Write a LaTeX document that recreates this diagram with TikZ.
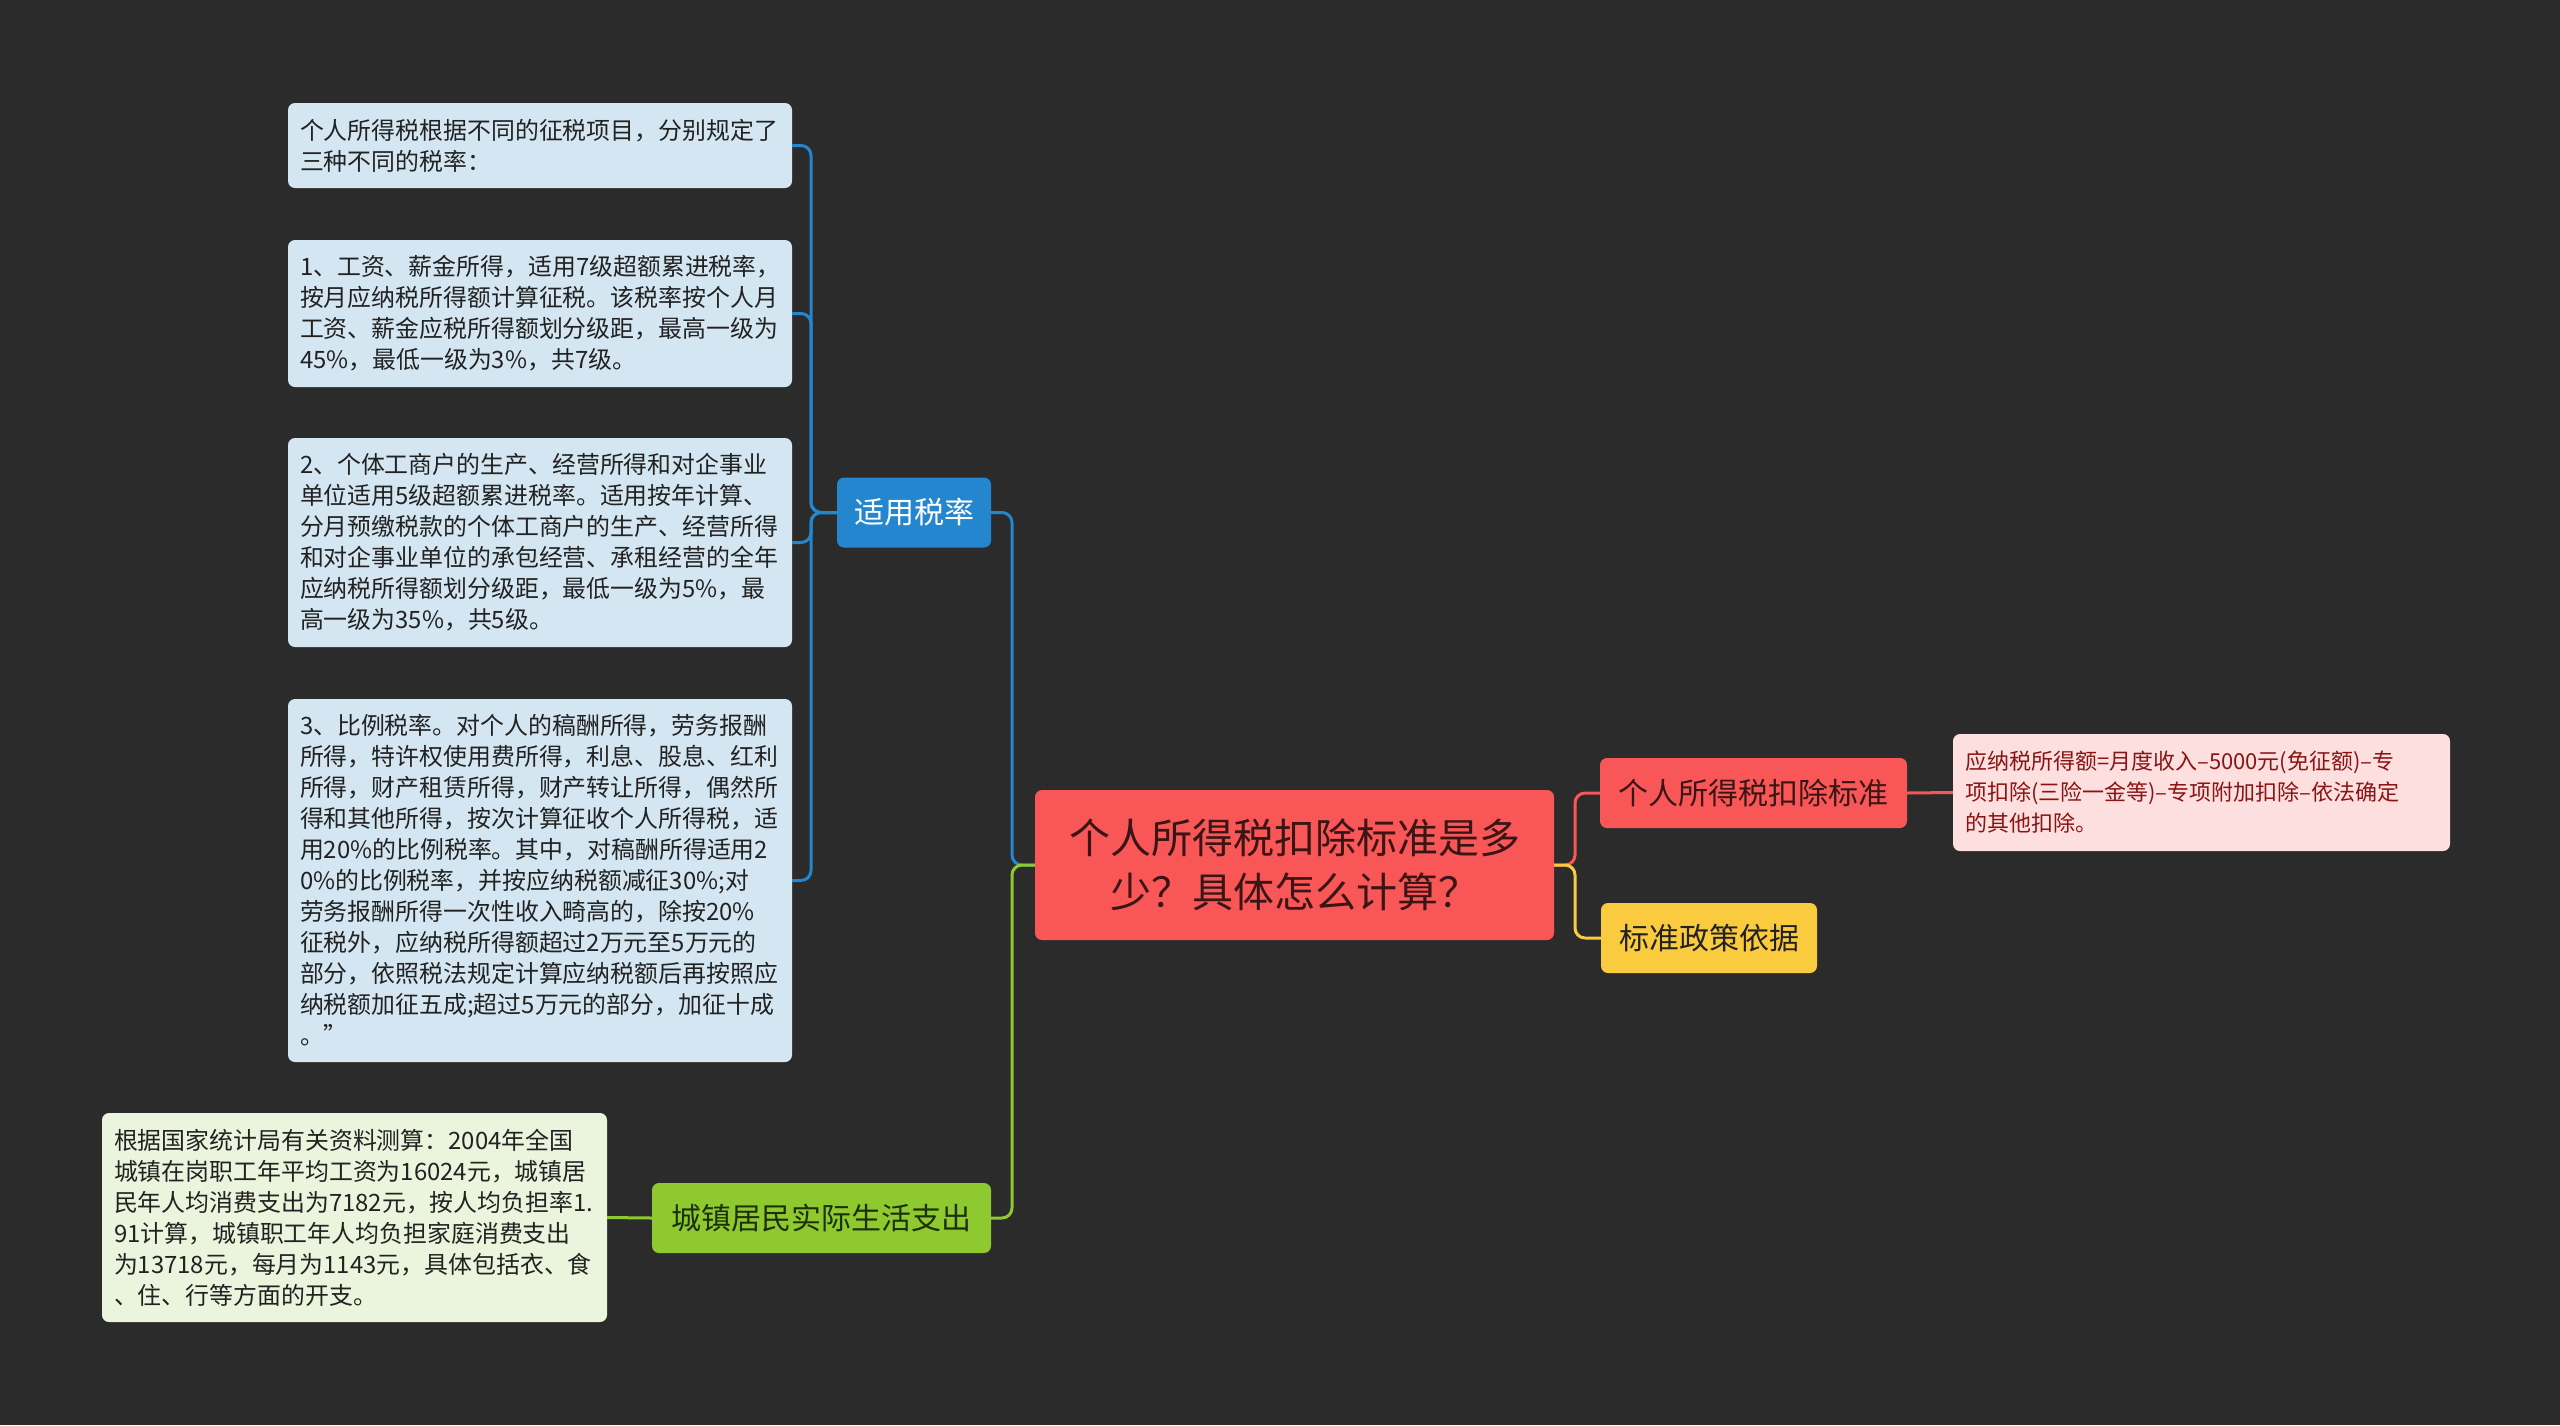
\documentclass[tikz,border=0pt]{standalone}
\usepackage{fontspec}
\newfontfamily\cjk{Noto Sans CJK SC}
\definecolor{bgc}{HTML}{2B2B2B}
\definecolor{bluec}{HTML}{2386CF}
\definecolor{lbluec}{HTML}{D4E6F2}
\definecolor{redc}{HTML}{F95657}
\definecolor{pinkc}{HTML}{FDDFDF}
\definecolor{pinktext}{HTML}{8A1414}
\definecolor{yellowc}{HTML}{FBCB3F}
\definecolor{greenc}{HTML}{8DC92F}
\definecolor{lgreenc}{HTML}{EBF4DC}
\definecolor{darktext}{HTML}{222222}
\definecolor{roottext}{HTML}{3A1515}
\definecolor{greentext}{HTML}{1E3008}
\begin{document}
\begin{tikzpicture}[x=1pt,y=-1pt,
  base/.style={rectangle, rounded corners=7pt, inner sep=0pt},
  leaf/.style={base, align=left, inner xsep=12pt, text=darktext,
    font=\cjk\fontsize{23.9}{31}\selectfont},
  leafblue/.style={leaf, fill=lbluec, text width=480pt},
  leafgreen/.style={leaf, fill=lgreenc, text width=481pt},
  leafpink/.style={leaf, fill=pinkc, text=pinktext, text width=473pt,
    font=\cjk\fontsize{22}{31}\selectfont},
  mid/.style={base, minimum height=70pt, align=center,
    font=\cjk\fontsize{30}{36}\selectfont},
  con/.style={line width=3pt, rounded corners=10pt},
]
\useasboundingbox (0,0) rectangle (2560,1425);
\fill[bgc] (0,0) rectangle (2560,1425);

% main nodes
\node[base, fill=redc, text=roottext, minimum width=519pt, minimum height=150pt,
  align=center, font=\cjk\fontsize{41}{54}\selectfont] (root) at (1294.5,865)
  {个人所得税扣除标准是多\\少？具体怎么计算？};
\node[mid, fill=bluec, text=white, minimum width=154pt] (blue) at (914,512.5) {适用税率};
\node[mid, fill=greenc, text=greentext, minimum width=339pt] (green) at (821.5,1218) {城镇居民实际生活支出};
\node[mid, fill=redc, text=roottext, minimum width=307pt] (red) at (1753.5,793) {个人所得税扣除标准};
\node[mid, fill=yellowc, text=darktext, minimum width=216pt] (yellow) at (1709,938) {标准政策依据};

% leaves
\node[leafblue, minimum height=85pt] (a) at (540,145.5)
  {个人所得税根据不同的征税项目，分别规定了\\三种不同的税率：};
\node[leafblue, minimum height=147pt] (b) at (540,313.5)
  {1、工资、薪金所得，适用7级超额累进税率，\\按月应纳税所得额计算征税。该税率按个人月\\工资、薪金应税所得额划分级距，最高一级为\\45\%，最低一级为3\%，共7级。};
\node[leafblue, minimum height=209pt] (c) at (540,542.5)
  {2、个体工商户的生产、经营所得和对企事业\\单位适用5级超额累进税率。适用按年计算、\\分月预缴税款的个体工商户的生产、经营所得\\和对企事业单位的承包经营、承租经营的全年\\应纳税所得额划分级距，最低一级为5\%，最\\高一级为35\%，共5级。};
\node[leafblue, minimum height=363pt] (d) at (540,880.5)
  {3、比例税率。对个人的稿酬所得，劳务报酬\\所得，特许权使用费所得，利息、股息、红利\\所得，财产租赁所得，财产转让所得，偶然所\\得和其他所得，按次计算征收个人所得税，适\\用20\%的比例税率。其中，对稿酬所得适用2\\0\%的比例税率，并按应纳税额减征30\%;对\\劳务报酬所得一次性收入畸高的，除按20\%\\征税外，应纳税所得额超过2万元至5万元的\\部分，依照税法规定计算应纳税额后再按照应\\纳税额加征五成;超过5万元的部分，加征十成\\。”};
\node[leafgreen, minimum height=209pt] (e) at (354.5,1217.5)
  {根据国家统计局有关资料测算：2004年全国\\城镇在岗职工年平均工资为16024元，城镇居\\民年人均消费支出为7182元，按人均负担率1.\\91计算，城镇职工年人均负担家庭消费支出\\为13718元，每月为1143元，具体包括衣、食\\、住、行等方面的开支。};
\node[leafpink, minimum height=117pt] (p) at (2201.5,792.5)
  {应纳税所得额=月度收入–5000元(免征额)–专\\项扣除(三险一金等)–专项附加扣除–依法确定\\的其他扣除。};

% junctions
\coordinate (jl) at (1012,865);
\coordinate (jr) at (1575,865);
\coordinate (jb) at (811,512.5);

% connectors
\draw[con, bluec] (blue.east) -| (jl) -- (root.west);
\draw[con, greenc] (green.east) -| (jl) -- (root.west);
\draw[con, redc] (root.east) -- (jr) |- (red.west);
\draw[con, yellowc] (root.east) -- (jr) |- (yellow.west);
\draw[con, redc] (red.east) -- (p.west);
\draw[con, greenc] (green.west) -- (e.east);
\foreach \t in {a,b,c,d}{
  \draw[con, bluec] (blue.west) -- (jb) |- (\t.east);
}
\end{tikzpicture}
\end{document}
